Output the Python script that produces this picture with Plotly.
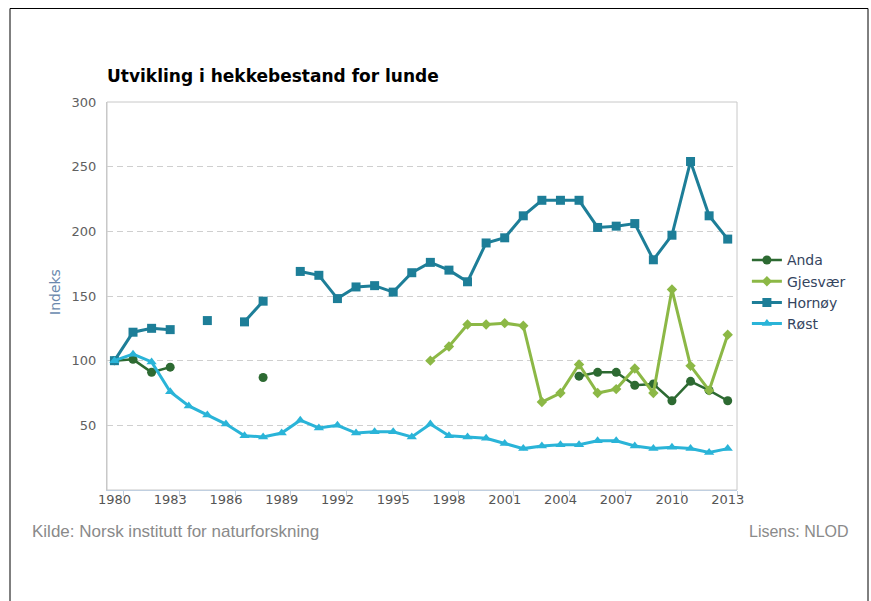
import plotly.graph_objects as go

years = [1980, 1981, 1982, 1983, 1984, 1985, 1986, 1987, 1988, 1989,
         1990, 1991, 1992, 1993, 1994, 1995, 1996, 1997, 1998, 1999,
         2000, 2001, 2002, 2003, 2004, 2005, 2006, 2007, 2008, 2009,
         2010, 2011, 2012, 2013]

anda = [100, 101, 91, 95, None, None, None, None, 87, None,
        None, None, None, None, None, None, None, None, None, None,
        None, None, None, None, None, 88, 91, 91, 81, 82,
        69, 84, 77, 69]

gjesvaer = [None, None, None, None, None, None, None, None, None, None,
            None, None, None, None, None, None, None, 100, 111, 128,
            128, 129, 127, 68, 75, 97, 75, 78, 94, 75,
            155, 96, 77, 120]

hornoy = [100, 122, 125, 124, None, 131, None, 130, 146, None,
          169, 166, 148, 157, 158, 153, 168, 176, 170, 161,
          191, 195, 212, 224, 224, 224, 203, 204, 206, 178,
          197, 254, 212, 194]

rost = [100, 105, 99, 76, 65, 58, 51, 42, 41, 44,
        54, 48, 50, 44, 45, 45, 41, 51, 42, 41,
        40, 36, 32, 34, 35, 35, 38, 38, 34, 32,
        33, 32, 29, 32]

label_years = [1980, 1983, 1986, 1989, 1992, 1995, 1998, 2001, 2004, 2007, 2010, 2013]
y_ticks = [0, 50, 100, 150, 200, 250, 300]

series = [
    ("Anda", anda, "#2d6a32", "circle", 9, 2.5),
    ("Gjesvær", gjesvaer, "#8cb846", "diamond", 8, 3),
    ("Hornøy", hornoy, "#1d7e98", "square", 9, 3),
    ("Røst", rost, "#2ab4d8", "triangle-up", 9, 3),
]

fig = go.Figure()
for name, vals, color, sym, msize, lw in series:
    fig.add_trace(go.Scatter(
        x=years, y=vals, name=name, mode="lines+markers",
        connectgaps=False,
        line=dict(color=color, width=lw),
        marker=dict(color=color, symbol=sym, size=msize),
    ))

FONT = "Verdana, DejaVu Sans, sans-serif"
FOOT = "Liberation Sans, Arial, sans-serif"

fig.update_layout(
    width=871, height=601,
    margin=dict(l=107, r=134, t=102, b=111),
    paper_bgcolor="white", plot_bgcolor="white",
    font=dict(family=FONT, size=13, color="#606060"),
    showlegend=True,
    legend=dict(
        x=1.0157, xanchor="left", y=0.633, yanchor="top",
        font=dict(family=FONT, size=14, color="#34445e"),
        bgcolor="rgba(0,0,0,0)", itemwidth=30, tracegroupgap=0,
    ),
    xaxis=dict(
        range=[1979.6, 2013.5],
        tickmode="array", tickvals=label_years,
        ticktext=[str(y) for y in label_years],
        ticks="", ticklabelstandoff=-3, showgrid=False, zeroline=False,
        showline=True, linecolor="#c0cfe0", linewidth=1,
        tickfont=dict(family=FONT, size=13, color="#555555"),
        minor=dict(tickmode="array", tickvals=[y + 0.5 for y in label_years],
                   ticks="outside", ticklen=5, tickcolor="#c0cfe0", showgrid=False),
    ),
    yaxis=dict(
        range=[0, 300], tickmode="array", tickvals=y_ticks,
        ticktext=["" if v == 0 else str(v) for v in y_ticks],
        ticks="", ticklabelstandoff=7,
        showgrid=True, gridcolor="#cfcfcf", griddash="6px,4px", gridwidth=1,
        zeroline=False,
        showline=True, linecolor="#c8c8c8", linewidth=1,
        tickfont=dict(family=FONT, size=13, color="#606060"),
    ),
)

# plot frame (top/right light border)
fig.add_shape(type="rect", xref="paper", yref="paper", x0=0, x1=1, y0=0, y1=1,
              line=dict(color="#c8c8c8", width=1), layer="below")

# outer black border
fig.add_shape(type="rect", xref="paper", yref="paper",
              x0=(10 - 107) / 630, x1=(868 - 107) / 630,
              y0=-0.5, y1=(490 - 8.5) / 388,
              line=dict(color="#000000", width=1))

fig.add_annotation(text="<b>Utvikling i hekkebestand for lunde</b>",
                   xref="paper", yref="paper", x=-2 / 630, xanchor="left",
                   y=(490 - 76) / 388, yanchor="middle", showarrow=False,
                   font=dict(family=FONT, size=17, color="#000000"))

fig.add_annotation(text="Indeks", textangle=-90,
                   xref="paper", yref="paper", x=(55 - 107) / 630, xanchor="center",
                   y=(490 - 292) / 388, yanchor="middle", showarrow=False,
                   font=dict(family=FONT, size=14, color="#6a88ad"))

fig.add_annotation(text="Kilde: Norsk institutt for naturforskning",
                   xref="paper", yref="paper", x=(30 - 107) / 630, xanchor="left",
                   y=(490 - 531) / 388, yanchor="middle", showarrow=False,
                   font=dict(family=FOOT, size=17, color="#8a8a8a"))

fig.add_annotation(text="Lisens: NLOD",
                   xref="paper", yref="paper", x=(851 - 107) / 630, xanchor="right",
                   y=(490 - 531) / 388, yanchor="middle", showarrow=False,
                   font=dict(family=FOOT, size=16, color="#8a8a8a"))

fig.write_html("out.html", config={"displayModeBar": False},
               post_script="document.body.style.margin='0';")
